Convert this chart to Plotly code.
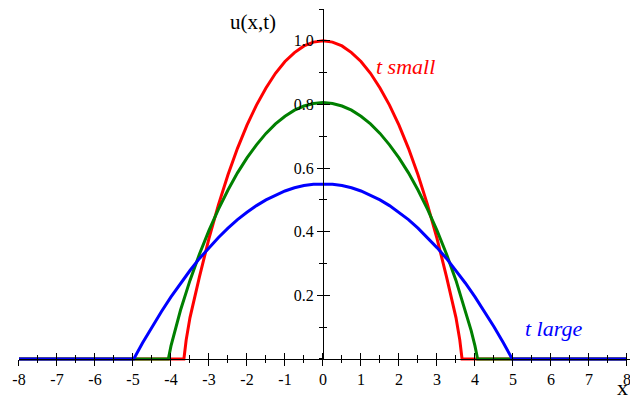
import plotly.graph_objects as go

# profiles (x, u)
x_red = [-8, -3.66, -3.6, -3.5, -3.25, -3, -2.75, -2.5, -2.25, -2, -1.75, -1.5, -1.25, -1,
         -0.75, -0.5, -0.25, 0, 0.25, 0.5, 0.75, 1, 1.25, 1.5, 1.75, 2, 2.25, 2.5, 2.75, 3,
         3.25, 3.5, 3.6, 3.66, 8]
u_red = [0, 0, 0.06, 0.13, 0.259, 0.379, 0.485, 0.579, 0.662, 0.735, 0.798, 0.852, 0.898, 0.935,
         0.963, 0.984, 0.996, 1.0, 0.996, 0.984, 0.963, 0.935, 0.898, 0.852, 0.798, 0.735, 0.662,
         0.579, 0.485, 0.379, 0.259, 0.13, 0.06, 0, 0]

x_green = [-8, -4.07, -4, -3.9, -3.75, -3.5, -3.25, -3, -2.75, -2.5, -2.25, -2, -1.75, -1.5,
           -1.25, -1, -0.75, -0.5, -0.25, 0, 0.25, 0.5, 0.75, 1, 1.25, 1.5, 1.75, 2, 2.25, 2.5,
           2.75, 3, 3.25, 3.5, 3.75, 3.9, 4, 4.07, 8]
u_green = [0, 0, 0.041, 0.089, 0.153, 0.247, 0.330, 0.404, 0.471, 0.531, 0.585, 0.632, 0.673,
           0.709, 0.739, 0.763, 0.782, 0.795, 0.803, 0.806, 0.803, 0.795, 0.782, 0.763, 0.739,
           0.709, 0.673, 0.632, 0.585, 0.531, 0.471, 0.404, 0.330, 0.247, 0.153, 0.089, 0.041,
           0, 0]

x_blue = [-8, -4.98, -4.75, -4.5, -4.25, -4, -3.75, -3.5, -3.25, -3, -2.75, -2.5, -2.25, -2,
          -1.75, -1.5, -1.25, -1, -0.75, -0.5, -0.25, 0, 0.25, 0.5, 0.75, 1, 1.25, 1.5, 1.75, 2,
          2.25, 2.5, 2.75, 3, 3.25, 3.5, 3.75, 4, 4.25, 4.5, 4.75, 4.98, 8]
u_blue = [0, 0, 0.050, 0.101, 0.149, 0.195, 0.238, 0.278, 0.316, 0.350, 0.382, 0.411, 0.438,
          0.461, 0.482, 0.500, 0.515, 0.528, 0.538, 0.545, 0.549, 0.55, 0.549, 0.545, 0.538,
          0.528, 0.515, 0.500, 0.482, 0.461, 0.438, 0.411, 0.382, 0.350, 0.316, 0.278, 0.238,
          0.195, 0.149, 0.101, 0.050, 0, 0]

x_tick_vals = list(range(-8, 9))
x_tick_text = [str(v) for v in x_tick_vals]
y_tick_vals = [0.2, 0.4, 0.6, 0.8, 1.0]
y_tick_text = ["0.2", "0.4", "0.6", "0.8", "1.0"]

X_RANGE = [-8.5, 8.08]
Y_RANGE = [-0.063, 1.1]
FONT = "Liberation Serif"

# where the visible axes sit inside the plot area
x_axis_pos = (0 - Y_RANGE[0]) / (Y_RANGE[1] - Y_RANGE[0])
y_axis_pos = (0 - X_RANGE[0]) / (X_RANGE[1] - X_RANGE[0])
x_axis_start = (-8 - X_RANGE[0]) / (X_RANGE[1] - X_RANGE[0])

fig = go.Figure()
for xs, us, color in [(x_red, u_red, "#ff0000"), (x_green, u_green, "#008000"), (x_blue, u_blue, "#0000ff")]:
    fig.add_trace(go.Scatter(x=xs, y=us, mode="lines", line={"color": color, "width": 3},
                             hoverinfo="skip", showlegend=False))

# anchors for the two drawn axis pairs
fig.add_trace(go.Scatter(x=[0], y=[0], mode="lines", xaxis="x2", yaxis="y2", showlegend=False, hoverinfo="skip"))
fig.add_trace(go.Scatter(x=[0], y=[0], mode="lines", xaxis="x3", yaxis="y3", showlegend=False, hoverinfo="skip"))

hidden = {"visible": False, "showgrid": False, "zeroline": False}
tick_common = {"showgrid": False, "zeroline": False, "automargin": False, "tickcolor": "black",
               "tickwidth": 1, "tickfont": {"family": FONT, "size": 16, "color": "black"}}

fig.update_layout(
    template="none",
    width=630,
    height=399,
    margin={"l": 0, "r": 0, "t": 9, "b": 20},
    font={"family": FONT, "size": 16, "color": "black"},
    paper_bgcolor="white",
    plot_bgcolor="rgba(0,0,0,0)",
    showlegend=False,
    xaxis={**hidden, "range": X_RANGE, "domain": [0, 1]},
    yaxis={**hidden, "range": Y_RANGE, "domain": [0, 1]},
    xaxis2={**tick_common, "range": [-8, X_RANGE[1]], "domain": [x_axis_start, 1], "anchor": "free",
            "position": x_axis_pos, "showline": True, "linecolor": "black", "linewidth": 1,
            "tickmode": "array", "tickvals": x_tick_vals, "ticktext": x_tick_text,
            "ticks": "outside", "ticklen": 6, "ticklabeloverflow": "allow",
            "minor": {"tickmode": "linear", "tick0": 0, "dtick": 0.5, "ticks": "outside",
                      "ticklen": 3.5, "tickcolor": "black"}},
    xaxis3={**tick_common, "range": [-8, X_RANGE[1]], "overlaying": "x2", "anchor": "free",
            "position": x_axis_pos, "showline": False, "showticklabels": False,
            "tickmode": "array", "tickvals": x_tick_vals, "ticks": "inside", "ticklen": 6,
            "minor": {"tickmode": "linear", "tick0": 0, "dtick": 0.5, "ticks": "inside",
                      "ticklen": 3.5, "tickcolor": "black"}},
    yaxis2={**tick_common, "range": [0, Y_RANGE[1]], "domain": [x_axis_pos, 1], "anchor": "free",
            "position": y_axis_pos, "showline": True, "linecolor": "black", "linewidth": 1,
            "tickmode": "array", "tickvals": y_tick_vals, "ticktext": y_tick_text,
            "ticks": "outside", "ticklen": 6,
            "minor": {"tickmode": "linear", "tick0": 0, "dtick": 0.1, "ticks": "outside",
                      "ticklen": 3.5, "tickcolor": "black"}},
    yaxis3={**tick_common, "range": [0, Y_RANGE[1]], "overlaying": "y2", "anchor": "free",
            "position": y_axis_pos, "showline": False, "showticklabels": False,
            "tickmode": "array", "tickvals": y_tick_vals, "ticks": "inside", "ticklen": 6,
            "minor": {"tickmode": "linear", "tick0": 0, "dtick": 0.1, "ticks": "inside",
                      "ticklen": 3.5, "tickcolor": "black"}},
    annotations=[
        {"text": "u(x,t)", "x": -1.84, "y": 1.06, "xref": "x", "yref": "y", "showarrow": False,
         "xanchor": "center", "yanchor": "middle",
         "font": {"family": FONT, "size": 21, "color": "black"}},
        {"text": "<i>t small</i>", "x": 2.18, "y": 0.918, "xref": "x", "yref": "y", "showarrow": False,
         "xanchor": "center", "yanchor": "middle",
         "font": {"family": FONT, "size": 22, "color": "#ff0000"}},
        {"text": "<i>t large</i>", "x": 6.07, "y": 0.097, "xref": "x", "yref": "y", "showarrow": False,
         "xanchor": "center", "yanchor": "middle",
         "font": {"family": FONT, "size": 22, "color": "#0000ff"}},
        {"text": "x", "x": 622 / 630, "y": -0.022, "xref": "paper", "yref": "paper", "showarrow": False,
         "xanchor": "center", "yanchor": "middle",
         "font": {"family": FONT, "size": 22, "color": "black"}},
    ],
)

fig.write_html("out.html", config={"displayModeBar": False},
               post_script="document.body.style.margin = '0';")
